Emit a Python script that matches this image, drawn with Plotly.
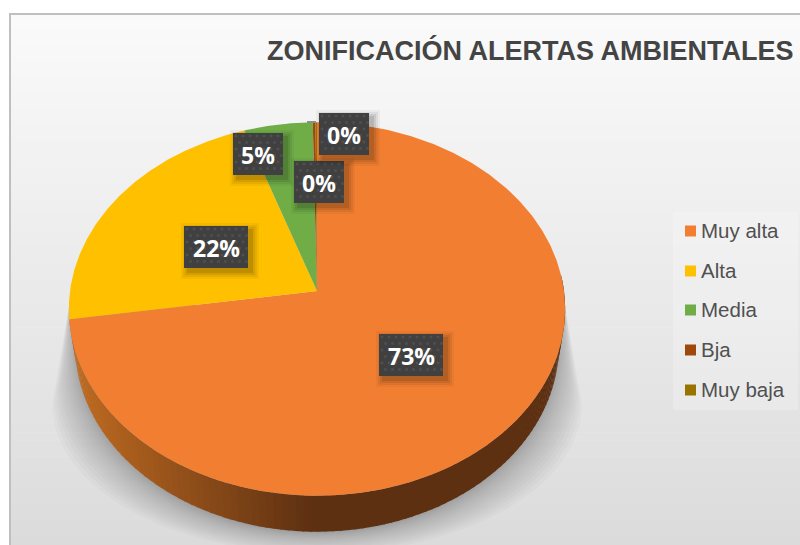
import math
import plotly.graph_objects as go

categories = ["Muy alta", "Alta", "Media", "Bja", "Muy baja"]
values = [72.6, 22.2, 4.9, 0.2, 0.1]
colors = ["#F27F31", "#FFC000", "#70AD47", "#9E480E", "#997300"]
title_text = "ZONIFICACIÓN ALERTAS AMBIENTALES"

# pixel-space layout constants (tilted pie projection)
W, H = 800, 545
CX, CY = 317, 291
BX, AY, K = 247, 185, 0.0963
DEPTH, SHRINK = 36, 0.975


def rim(theta_deg, lower=False):
    t = math.radians(theta_deg)
    s = 1 / (1 + K * math.cos(t))
    x = CX + BX * math.sin(t) * s
    y = CY - AY * math.cos(t) * s
    if lower:
        x = CX + (x - CX) * SHRINK
        y += DEPTH
    return x, y


def poly(xs, ys, color, name=None):
    return go.Scatter(x=list(xs) + [xs[0]], y=list(ys) + [ys[0]], mode="lines", fill="toself",
                      fillcolor=color, line=dict(width=0, color=color), hoverinfo="skip",
                      showlegend=False, name=name)


def lerp_hex(a, b, f):
    pa = [int(a[i:i + 2], 16) for i in (1, 3, 5)]
    pb = [int(b[i:i + 2], 16) for i in (1, 3, 5)]
    return "#%02x%02x%02x" % tuple(round(p + (q - p) * f) for p, q in zip(pa, pb))


fig = go.Figure()

# background gradient
shapes = []
N_BG = 66
for i in range(N_BG):
    y0 = 13 + (H - 13) * i / N_BG
    y1 = 13 + (H - 13) * (i + 1) / N_BG
    shapes.append(dict(type="rect", x0=10, x1=W, y0=y0, y1=y1 + 0.5, layer="below", line_width=0,
                       fillcolor=lerp_hex("#FAFAFA", "#DBDBDB", i / N_BG)))
shapes.append(dict(type="line", x0=10, x1=10, y0=13, y1=H, line=dict(color="#BFBFBF", width=2), layer="above"))
shapes.append(dict(type="line", x0=10, x1=W, y0=14, y1=14, line=dict(color="#BFBFBF", width=2), layer="above"))

# soft shadow under the pie
N_SH = 16
for i in range(N_SH):
    t = (1 - i / (N_SH - 1)) ** 1.4
    rx, ry, cy = 241 + 24 * t, 187 - 38 * t, 345 + 60 * t
    xs, ys = [69], [305]
    for d in range(0, 181, 3):
        a = math.radians(d)
        xs.append(CX - rx * math.cos(a))
        ys.append(cy + ry * math.sin(a))
    xs.append(565)
    ys.append(305)
    fig.add_trace(poly(xs, ys, "rgba(0,0,0,0.018)"))

# angles of slices, clockwise from 12 o'clock
total = sum(values)
edges = [0.0]
for v in values:
    edges.append(edges[-1] + v / total * 360)

# side wall of the first slice, shaded by horizontal position
N_W = 110
start, stop = 85, edges[1]
for i in range(N_W):
    a0 = start + (stop - start) * i / N_W
    a1 = start + (stop - start) * (i + 1) / N_W + 0.3
    p = [rim(a0), rim(a1), rim(a1, True), rim(a0, True)]
    xm = (p[0][0] + p[1][0]) / 2
    f = min(max((xm - 75) / (310 - 75), 0), 1)
    fig.add_trace(poly([q[0] for q in p], [q[1] for q in p], lerp_hex("#BE6A20", "#5E3012", f)))

# top face
for cat, col, a0, a1 in zip(categories, colors, edges[:-1], edges[1:]):
    n = max(2, int((a1 - a0) / 0.5))
    pts = [rim(a0 + (a1 - a0) * j / n) for j in range(n + 1)]
    xs = [CX] + [q[0] for q in pts]
    ys = [CY] + [q[1] for q in pts]
    fig.add_trace(poly(xs, ys, col, name=cat))

# leader tick of the smallest slices
fig.add_trace(go.Scatter(x=[307, 316], y=[122, 122], mode="lines", line=dict(color="#8C8C8C", width=2),
                         hoverinfo="skip", showlegend=False))

# data labels
label_boxes = [(379, 334, 443, 376), (184, 226, 248, 268), (233, 133, 283, 175), (294, 161, 344, 203), (319, 113, 369, 155)]
annotations = []
for v, (x0, y0, x1, y1) in zip(values, label_boxes):
    for e, al in ((8, 0.04), (6, 0.06), (4, 0.08), (2, 0.10)):
        fig.add_trace(poly([x0 + 5 - e, x1 + 3 + e, x1 + 3 + e, x0 + 5 - e],
                           [y0 + 5 - e, y0 + 5 - e, y1 + 3 + e, y1 + 3 + e], f"rgba(0,0,0,{al})"))
    fig.add_trace(poly([x0, x1, x1, x0], [y0, y0, y1, y1], "#404040"))
    dx, dy = [], []
    yy, r = y0 + 3, 0
    while yy < y1:
        xx = x0 + (3 if r % 2 == 0 else 6.5)
        while xx < x1:
            dx.append(xx)
            dy.append(yy)
            xx += 7
        yy += 6.5
        r += 1
    fig.add_trace(go.Scatter(x=dx, y=dy, mode="markers", marker=dict(size=2.5, color="#505050", symbol="square"),
                             hoverinfo="skip", showlegend=False))
    annotations.append(dict(x=(x0 + x1) / 2, y=(y0 + y1) / 2 + 0.5, text=f"{round(v / total * 100)}%", showarrow=False,
                            xanchor="center", yanchor="middle",
                            font=dict(family="Open Sans", size=23, color="#FFFFFF", weight=700)))

# legend panel
fig.add_trace(poly([673, 798, 798, 673], [212, 212, 410, 410], "rgba(255,255,255,0.22)"))
row_y = [231, 271, 310, 350, 390]
for cat, col, y in zip(categories, colors, row_y):
    fig.add_trace(go.Scatter(x=[690.5], y=[y], mode="markers", marker=dict(size=11, color=col, symbol="square"),
                             hoverinfo="skip", showlegend=False, name=cat))
    annotations.append(dict(x=698.5, y=y - 0.5, text=cat, showarrow=False, xanchor="left", yanchor="middle",
                            font=dict(family="Liberation Sans", size=20.5, color="#505050")))

annotations.append(dict(x=529.5, y=50, text=f"<b>{title_text}</b>", showarrow=False, xanchor="center", yanchor="middle",
                        font=dict(family="Liberation Sans", size=27, color="#444444")))

fig.update_layout(width=W, height=H, margin=dict(l=0, r=0, t=0, b=0), paper_bgcolor="#FFFFFF", plot_bgcolor="#FFFFFF",
                  xaxis=dict(range=[0, W], visible=False, fixedrange=True),
                  yaxis=dict(range=[H, 0], visible=False, fixedrange=True),
                  shapes=shapes, annotations=annotations, showlegend=False)
fig.write_html("out.html", config={"displayModeBar": False},
               post_script="document.body.style.margin='0';document.body.style.overflow='hidden';")
